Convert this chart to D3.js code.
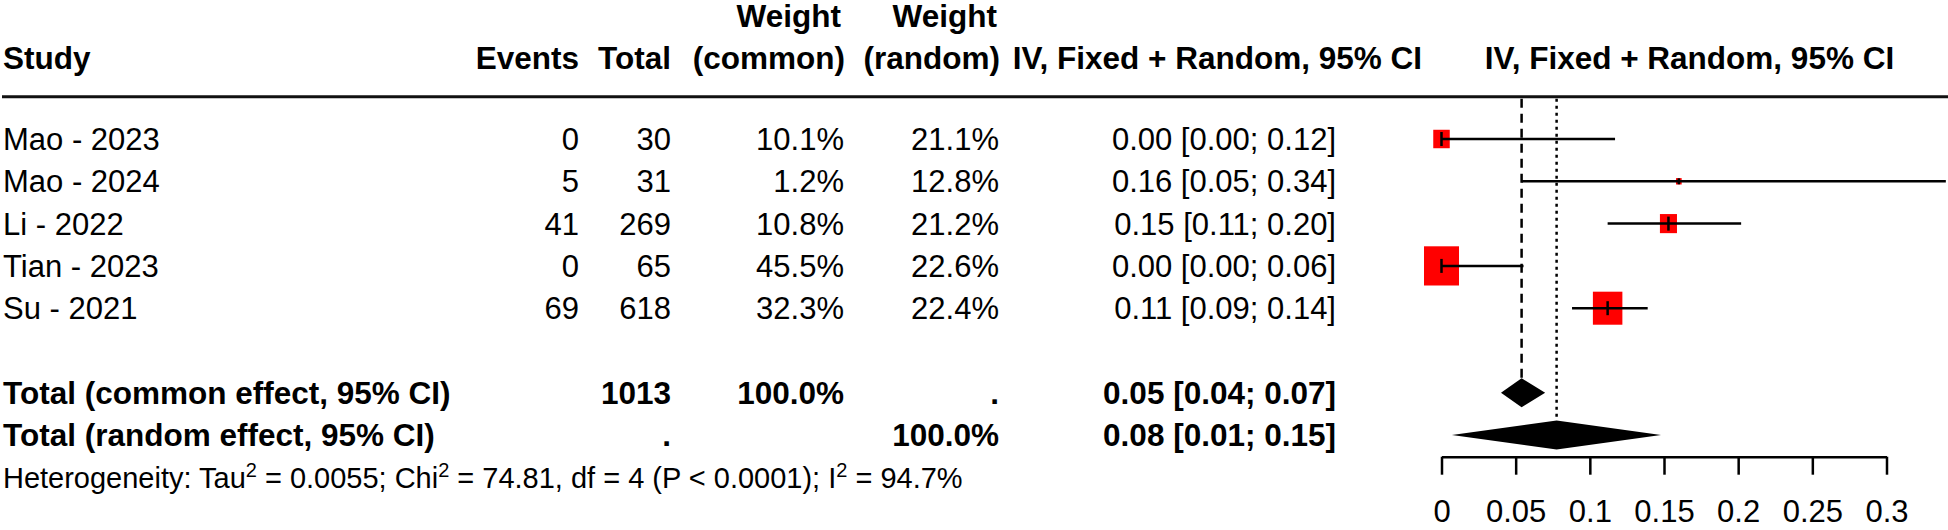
<!DOCTYPE html>
<html>
<head>
<meta charset="utf-8">
<script src="https://cdn.jsdelivr.net/npm/d3@7"></script>
<style>
  body { margin: 0; background: #fff; }
  svg { display: block; font-family: "Liberation Sans", Arial, sans-serif; }
</style>
</head>
<body>
<svg id="chart"></svg>
<script>
// study level data
const studies = ['Mao - 2023', 'Mao - 2024', 'Li - 2022', 'Tian - 2023', 'Su - 2021'];
const events = [0, 5, 41, 0, 69];
const totals = [30, 31, 269, 65, 618];
const weightCommon = [10.1, 1.2, 10.8, 45.5, 32.3];
const weightRandom = [21.1, 12.8, 21.2, 22.6, 22.4];
const estimates = [0.0, 0.16, 0.153, 0.0, 0.112];
const lowers = [0.0, 0.054, 0.112, 0.0, 0.088];
const uppers = [0.117, 0.34, 0.202, 0.0553, 0.139];

// pooled results (common, random)
const pooledLabels = ['Total (common effect, 95% CI)', 'Total (random effect, 95% CI)'];
const pooledTotal = ['1013', '.'];
const pooledWeightCommon = ['100.0%', ''];
const pooledWeightRandom = ['.', '100.0%'];
const pooledEst = [0.054, 0.0776];
const pooledLower = [0.0401, 0.007];
const pooledUpper = [0.0699, 0.148];

// heterogeneity
const tau2 = '0.0055';
const chi2 = '74.81';
const df = 4;
const pValue = '< 0.0001';
const i2 = '94.7%';

const xTicks = [0, 0.05, 0.1, 0.15, 0.2, 0.25, 0.3];

const fmt2 = d3.format('.2f');
const fmtPct = d => d3.format('.1f')(d) + '%';

class ForestPlot {
  constructor(_config) {
    this.config = {
      parentElement: _config.parentElement,
      containerWidth: _config.containerWidth || 1948,
      containerHeight: _config.containerHeight || 530,
      fontSize: 31,
      boldSize: 31.5,
      header1: 15.5,
      header2: 58,
      ruleY: 96.7,
      axisY: 456.7
    }
    this.initVis();
  }

  initVis() {
    let vis = this;
    vis.svg = d3.select(vis.config.parentElement)
        .attr('width', vis.config.containerWidth)
        .attr('height', vis.config.containerHeight);

    // row index -> vertical centre
    vis.y = d3.scaleLinear().domain([0, 1]).range([139, 181.3]);
    vis.x = d3.scaleLinear().domain([0, 0.3]).range([1441.5, 1886.5]);
    vis.size = d3.scaleSqrt().domain([0, d3.max(weightCommon)]).range([0, 35]);

    vis.renderTable();
    vis.renderForest();
  }

  text(x, y, str, anchor, bold) {
    let vis = this;
    return vis.svg.append('text')
        .attr('x', x)
        .attr('y', y)
        .attr('dy', '0.36em')
        .attr('text-anchor', anchor || 'start')
        .attr('font-size', bold ? vis.config.boldSize : vis.config.fontSize)
        .attr('font-weight', bold ? 'bold' : 'normal')
        .attr('fill', '#000')
        .text(str);
  }

  renderTable() {
    let vis = this;
    const c = vis.config;
    const col = { study: 3, events: 579, total: 671, wc: 844, wr: 999, ci: 1336 };

    // header
    vis.text(col.study, c.header2, 'Study', 'start', true);
    vis.text(col.events, c.header2, 'Events', 'end', true);
    vis.text(col.total, c.header2, 'Total', 'end', true);
    vis.text(col.wc - 3, c.header1, 'Weight', 'end', true);
    vis.text(col.wc + 1, c.header2, '(common)', 'end', true);
    vis.text(col.wr - 2, c.header1, 'Weight', 'end', true);
    vis.text(col.wr + 1, c.header2, '(random)', 'end', true);
    vis.text(1422, c.header2, 'IV, Fixed + Random, 95% CI', 'end', true);
    vis.text(1689.5, c.header2, 'IV, Fixed + Random, 95% CI', 'middle', true);

    vis.svg.append('line')
        .attr('x1', 2).attr('x2', c.containerWidth)
        .attr('y1', c.ruleY).attr('y2', c.ruleY)
        .attr('stroke', '#111').attr('stroke-width', 3);

    // study rows
    studies.forEach((s, i) => {
      const yy = vis.y(i);
      vis.text(col.study, yy, s, 'start', false);
      vis.text(col.events, yy, events[i], 'end', false);
      vis.text(col.total, yy, totals[i], 'end', false);
      vis.text(col.wc, yy, fmtPct(weightCommon[i]), 'end', false);
      vis.text(col.wr, yy, fmtPct(weightRandom[i]), 'end', false);
      vis.text(col.ci, yy, `${fmt2(estimates[i])} [${fmt2(lowers[i])}; ${fmt2(uppers[i])}]`, 'end', false);
    });

    // pooled rows
    pooledLabels.forEach((s, k) => {
      const yy = vis.y(6 + k);
      vis.text(col.study, yy, s, 'start', true);
      vis.text(col.total, yy, pooledTotal[k], 'end', true);
      vis.text(col.wc, yy, pooledWeightCommon[k], 'end', true);
      vis.text(col.wr, yy, pooledWeightRandom[k], 'end', true);
      vis.text(col.ci, yy, `${fmt2(pooledEst[k])} [${fmt2(pooledLower[k])}; ${fmt2(pooledUpper[k])}]`, 'end', true);
    });

    // heterogeneity line, squeezed to the width in the original
    const het = vis.svg.append('text')
        .attr('font-size', 29)
        .attr('y', 0)
        .attr('fill', '#000');
    const parts = [
      ['Heterogeneity: Tau', false], ['2', true], [` = ${tau2}; Chi`, false], ['2', true],
      [` = ${chi2}, df = ${df} (P ${pValue}); I`, false], ['2', true], [` = ${i2}`, false]
    ];
    let prevSup = false;
    parts.forEach(([t, sup], j) => {
      let dy = 0;
      if (j === 0) dy = 10.4;
      else if (sup) dy = -11;
      else if (prevSup) dy = 11;
      het.append('tspan')
          .attr('font-size', sup ? 20 : 29)
          .attr('dy', dy)
          .text(t);
      prevSup = sup;
    });
    const w = het.node().getComputedTextLength();
    const sx = (963 - 3) / w;
    het.attr('transform', `translate(3,${vis.y(8)}) scale(${sx},1)`);
  }

  renderForest() {
    let vis = this;
    const c = vis.config;

    // reference lines for the pooled estimates
    vis.svg.append('line')
        .attr('x1', vis.x(pooledEst[0])).attr('x2', vis.x(pooledEst[0]))
        .attr('y1', c.ruleY + 2).attr('y2', vis.y(6) - 14.5)
        .attr('stroke', '#000').attr('stroke-width', 2.5)
        .attr('stroke-dasharray', '9,6');
    vis.svg.append('line')
        .attr('x1', vis.x(pooledEst[1])).attr('x2', vis.x(pooledEst[1]))
        .attr('y1', c.ruleY + 2).attr('y2', vis.y(7) - 14.5)
        .attr('stroke', '#000').attr('stroke-width', 2.5)
        .attr('stroke-dasharray', '3,4');

    const rows = studies.map((s, i) => ({ i, est: estimates[i], lo: lowers[i], hi: uppers[i], w: weightCommon[i] }));

    vis.svg.selectAll('.sq')
        .data(rows)
        .join('rect')
          .attr('class', 'sq')
          .attr('x', d => vis.x(d.est) - vis.size(d.w) / 2)
          .attr('y', d => vis.y(d.i) - vis.size(d.w) * 1.12 / 2)
          .attr('width', d => vis.size(d.w))
          .attr('height', d => vis.size(d.w) * 1.12)
          .attr('fill', '#ff0000');

    vis.svg.selectAll('.ci')
        .data(rows)
        .join('line')
          .attr('class', 'ci')
          .attr('x1', d => vis.x(d.lo))
          .attr('x2', d => vis.x(d.hi))
          .attr('y1', d => vis.y(d.i))
          .attr('y2', d => vis.y(d.i))
          .attr('stroke', '#000')
          .attr('stroke-width', 2.5);

    vis.svg.selectAll('.est')
        .data(rows)
        .join('line')
          .attr('class', 'est')
          .attr('x1', d => vis.x(d.est))
          .attr('x2', d => vis.x(d.est))
          .attr('y1', d => vis.y(d.i) - (d.w > 5 ? 7 : 3))
          .attr('y2', d => vis.y(d.i) + (d.w > 5 ? 7 : 3))
          .attr('stroke', '#000')
          .attr('stroke-width', 2.5);

    // pooled diamonds
    const diamonds = pooledEst.map((e, k) => ({ k, est: e, lo: pooledLower[k], hi: pooledUpper[k] }));
    vis.svg.selectAll('.diamond')
        .data(diamonds)
        .join('path')
          .attr('class', 'diamond')
          .attr('d', d => {
            const yy = vis.y(6 + d.k);
            return `M${vis.x(d.lo)},${yy}L${vis.x(d.est)},${yy - 14.5}L${vis.x(d.hi)},${yy}L${vis.x(d.est)},${yy + 14.5}Z`;
          })
          .attr('fill', '#000');

    // x axis
    const axis = vis.svg.append('g')
        .attr('transform', `translate(0,${c.axisY})`)
        .call(d3.axisBottom(vis.x)
          .tickValues(xTicks)
          .tickFormat(d3.format('~g'))
          .tickSize(18)
          .tickSizeOuter(0)
          .tickPadding(25));
    axis.attr('font-family', null).attr('font-size', null);
    axis.select('.domain').attr('stroke', '#000').attr('stroke-width', 2.5);
    axis.selectAll('.tick line').attr('stroke', '#000').attr('stroke-width', 2.5);
    axis.selectAll('.tick text')
        .attr('font-size', c.fontSize)
        .attr('fill', '#000');
  }
}

new ForestPlot({ parentElement: '#chart' });
</script>
</body>
</html>
